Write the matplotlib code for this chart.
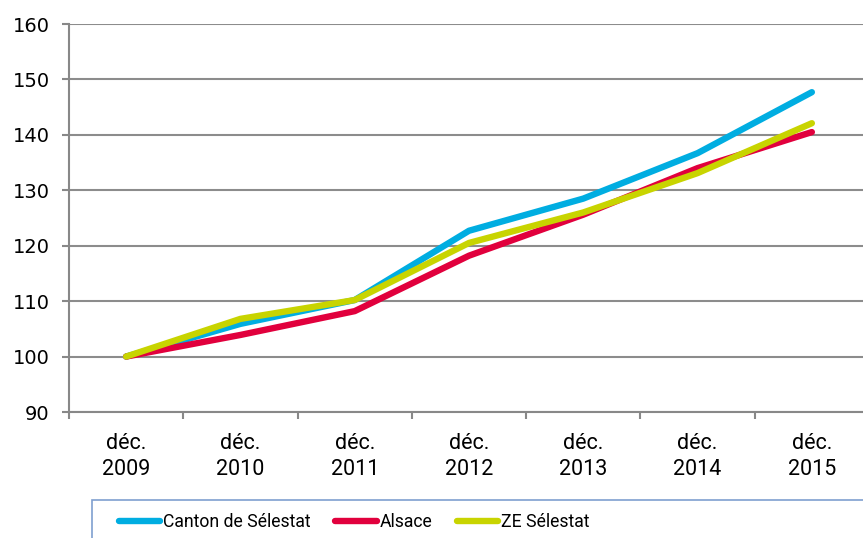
import matplotlib
matplotlib.use("Agg")
import matplotlib.pyplot as plt
from matplotlib.patches import Rectangle

categories = ["déc.\n2009", "déc.\n2010", "déc.\n2011", "déc.\n2012", "déc.\n2013", "déc.\n2014", "déc.\n2015"]
canton = [100, 105.9, 110.2, 122.7, 128.5, 136.7, 147.7]
alsace = [100, 103.9, 108.2, 118.2, 125.6, 134.0, 140.5]
ze = [100, 106.8, 110.2, 120.5, 126.0, 133.1, 142.1]
series_names = ["Canton de Sélestat", "Alsace", "ZE Sélestat"]
colors = ["#00ADE1", "#E1003D", "#C8D400"]
yticks = [90, 100, 110, 120, 130, 140, 150, 160]

NARROW = ['Roboto', 'DejaVu Sans']
plt.rcParams['font.family'] = ['DejaVu Sans']

W, H = 863, 538
fig = plt.figure(figsize=(W / 100, H / 100), dpi=100)
ax = fig.add_axes([69 / W, (H - 412) / H, 800 / W, 388 / H])

x = list(range(len(categories)))
for vals, name, c in zip([canton, alsace, ze], series_names, colors):
    ax.plot(x, vals, color=c, lw=4.6, label=name, solid_capstyle='round', solid_joinstyle='round')

ax.set_xlim(-0.5, len(categories) - 0.5)
ax.set_ylim(90, 160)
ax.set_yticks(yticks)
ax.set_yticklabels([str(v) for v in yticks], fontsize=14)
ax.set_xticks(x)
ax.set_xticklabels(categories, family=NARROW, fontsize=15.5, linespacing=1.3)
ax.set_xticks([i - 0.5 for i in range(len(categories) + 1)], minor=True)
ax.tick_params(axis='x', which='major', length=0, pad=15)
ax.tick_params(axis='x', which='minor', length=5, color='#888888', width=1.5)
ax.tick_params(axis='y', length=5, color='#888888', width=1.5, pad=9)
ax.grid(axis='y', color='#8c8c8c', lw=1.5)
ax.set_axisbelow(True)
for s in ['top', 'right']:
    ax.spines[s].set_visible(False)
for s in ['left', 'bottom']:
    ax.spines[s].set_color('#888888')
    ax.spines[s].set_linewidth(1.5)

fig.patches.append(Rectangle((92 / W, -0.05), 0.95, (H - 500) / H + 0.05,
                             transform=fig.transFigure, fill=False,
                             edgecolor='#7F9FCF', lw=1.2))
leg = fig.legend(loc='center left', bbox_to_anchor=(103 / W, 1 - 522 / H), ncol=3,
                 frameon=False, prop={'family': NARROW, 'size': 12.7},
                 handlelength=2.35, handletextpad=0.15, columnspacing=1.4)
for line in leg.get_lines():
    line.set_linewidth(4.6)

fig.savefig("out.png", dpi=100)
